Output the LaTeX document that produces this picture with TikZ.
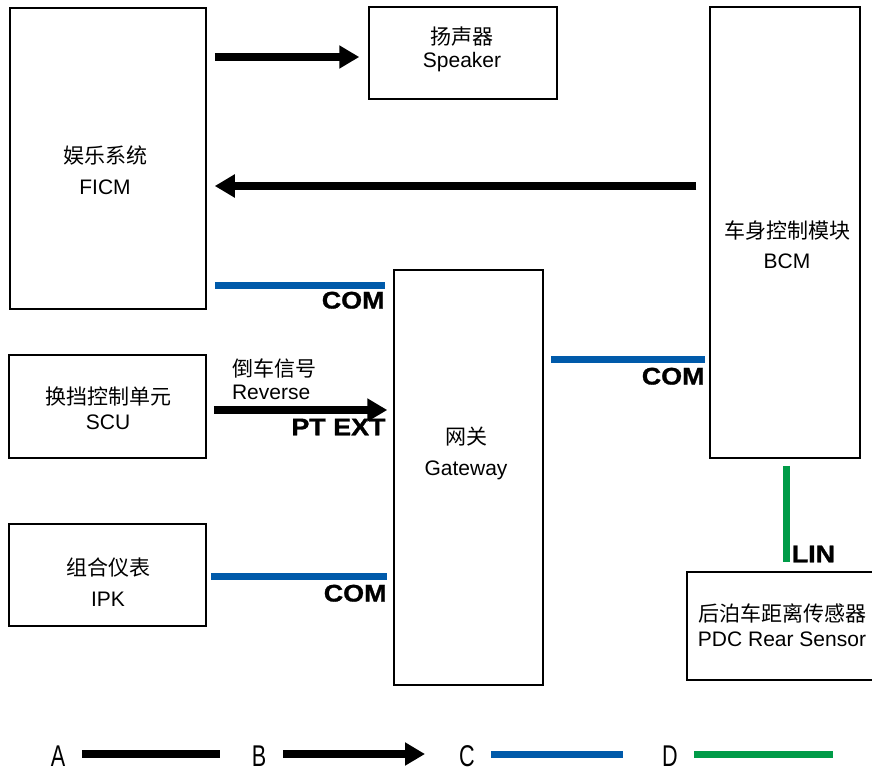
\documentclass[tikz,border=0pt]{standalone}
\usepackage{fontspec}
\setmainfont{Liberation Sans}
\newfontfamily\cjk{Noto Sans CJK SC}
\newfontfamily\narrowsans[FakeStretch=0.72]{Liberation Sans}
\newfontfamily\heavysans[FakeStretch=1.12,FakeBold=1.2]{Liberation Sans Bold}
\usetikzlibrary{arrows.meta}
\definecolor{comblue}{RGB}{0,90,170}
\definecolor{lingreen}{RGB}{0,155,72}
\begin{document}
\begin{tikzpicture}[x=1pt, y=-1pt, line width=1.5pt,
  box/.style={draw, inner sep=0pt},
  lbl/.style={align=center, font=\fontsize{21}{24}\selectfont},
  tag/.style={font=\heavysans\fontsize{24}{24}\selectfont, inner sep=0pt},
  key/.style={font=\narrowsans\fontsize{30}{30}\selectfont, inner sep=0pt},
  bus/.style={line width=8pt},
  blk/.style={bus, -{Triangle[length=20pt,width=22pt]}},
  com/.style={line width=7pt, comblue},
  lin/.style={line width=7pt, lingreen}]
  \useasboundingbox (0,0) rectangle (872,773);
  \node[box, minimum width=196, minimum height=301] (ficm) at (108,158.5) {};
  \node[box, minimum width=188, minimum height=92] (spk) at (463,53) {};
  \node[box, minimum width=150, minimum height=451] (bcm) at (785,232.5) {};
  \node[box, minimum width=149, minimum height=415] (gw) at (468.5,477.5) {};
  \node[box, minimum width=197, minimum height=103] (scu) at (107.5,406.5) {};
  \node[box, minimum width=197, minimum height=102] (ipk) at (107.5,575) {};
  \node[box, minimum width=193, minimum height=108] (pdc) at (783.5,626) {};
  \node[lbl] (ficm-txt) at (105,170.5) {{\cjk 娱乐系统}\\[7pt]FICM};
  \node[lbl] (spk-txt) at (462,49.5) {{\cjk 扬声器}\\[-1pt]Speaker};
  \node[lbl] (bcm-txt) at (787,245) {{\cjk 车身控制模块}\\[6pt]BCM};
  \node[lbl] (gw-txt) at (466,453.5) {{\cjk 网关}\\[7pt]Gateway};
  \node[lbl] (scu-txt) at (108,408.5) {{\cjk 换挡控制单元}\\[1pt]SCU};
  \node[lbl] (ipk-txt) at (108,582.5) {{\cjk 组合仪表}\\[7pt]IPK};
  \node[lbl] (pdc-txt) at (782,625.5) {{\cjk 后泊车距离传感器}\\[1pt]PDC Rear Sensor};
  \draw[blk, shorten <=8pt, shorten >=9pt] (ficm.east |- 0,57) -- (spk.west |- 0,57);
  \draw[blk, shorten <=13pt, shorten >=8pt] (bcm.west |- 0,186) -- (ficm.east |- 0,186);
  \draw[com, shorten <=8pt, shorten >=8pt] (ficm.east |- 0,285) -- (gw.west |- 0,285);
  \node[tag, anchor=north east] (com1) at ([xshift=-8pt]gw.west |- 0,291) {COM};
  \draw[com, shorten <=7pt, shorten >=4pt] (gw.east |- 0,359) -- (bcm.west |- 0,359);
  \node[tag, anchor=north east] (com2) at ([xshift=-4pt]bcm.west |- 0,367) {COM};
  \draw[blk, shorten <=7pt, shorten >=6pt] (scu.east |- 0,410) -- (gw.west |- 0,410);
  \node[lbl, align=left, anchor=west] (rev) at (228,379.5) {{\cjk 倒车信号}\\[-1pt]Reverse};
  \node[tag, anchor=north east] (ptext) at ([xshift=-7pt]gw.west |- 0,418) {PT EXT};
  \draw[com, shorten <=4pt, shorten >=6pt] (ipk.east |- 0,576) -- (gw.west |- 0,576);
  \node[tag, anchor=north east] (com3) at ([xshift=-6pt]gw.west |- 0,584) {COM};
  \draw[lin, shorten <=7pt, shorten >=9pt] ([xshift=1pt]bcm.south) -- ([xshift=1pt]bcm.south |- pdc.north);
  \node[tag, anchor=south west] (lin) at (791,563) {LIN};
  \foreach \n/\x/\s/\len in {A/58/bus/138, B/259/blk/142, C/467/com/132, D/670/lin/139} {
    \node[key] (key\n) at (\x,756) {\n};
    \draw[\s] ([shift={(24pt,2pt)}]key\n.center) -- ++(\len,0);
  }
\end{tikzpicture}
\end{document}
